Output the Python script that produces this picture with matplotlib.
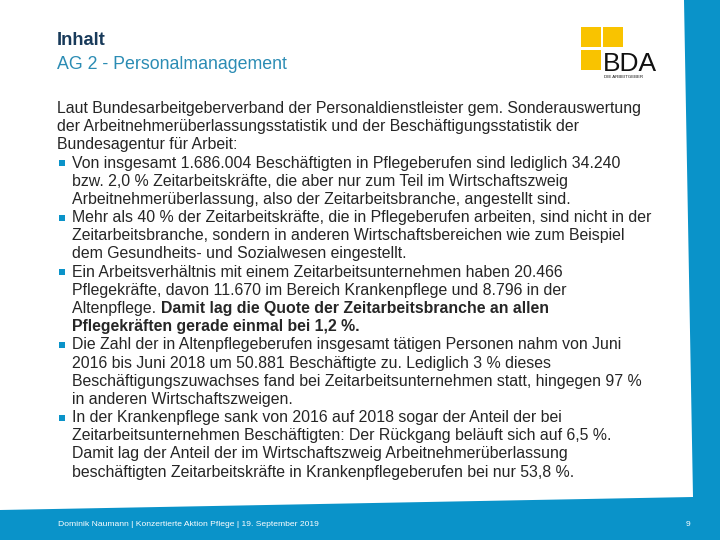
import matplotlib
matplotlib.use("Agg")
import matplotlib.pyplot as plt
from matplotlib.patches import Polygon, Rectangle

# ---- content ----
title = "Inhalt"
subtitle = "AG 2 - Personalmanagement"
footer = "Dominik Naumann | Konzertierte Aktion Pflege | 19. September 2019"
page_no = "9"
logo_text = "BDA"
logo_sub = "DIE ARBEITGEBER"

# each entry: (bullet?, normal text, bold text)
body_lines = [
    (False, "Laut Bundesarbeitgeberverband der Personaldienstleister gem. Sonderauswertung", ""),
    (False, "der Arbeitnehmerüberlassungsstatistik und der Beschäftigungsstatistik der", ""),
    (False, "Bundesagentur für Arbeit:", ""),
    (True, "Von insgesamt 1.686.004 Beschäftigten in Pflegeberufen sind lediglich 34.240", ""),
    (None, "bzw. 2,0 % Zeitarbeitskräfte, die aber nur zum Teil im Wirtschaftszweig", ""),
    (None, "Arbeitnehmerüberlassung, also der Zeitarbeitsbranche, angestellt sind.", ""),
    (True, "Mehr als 40 % der Zeitarbeitskräfte, die in Pflegeberufen arbeiten, sind nicht in der", ""),
    (None, "Zeitarbeitsbranche, sondern in anderen Wirtschaftsbereichen wie zum Beispiel", ""),
    (None, "dem Gesundheits- und Sozialwesen eingestellt.", ""),
    (True, "Ein Arbeitsverhältnis mit einem Zeitarbeitsunternehmen haben 20.466", ""),
    (None, "Pflegekräfte, davon 11.670 im Bereich Krankenpflege und 8.796 in der", ""),
    (None, "Altenpflege. ", "Damit lag die Quote der Zeitarbeitsbranche an allen"),
    (None, "", "Pflegekräften gerade einmal bei 1,2 %."),
    (True, "Die Zahl der in Altenpflegeberufen insgesamt tätigen Personen nahm von Juni", ""),
    (None, "2016 bis Juni 2018 um 50.881 Beschäftigte zu. Lediglich 3 % dieses", ""),
    (None, "Beschäftigungszuwachses fand bei Zeitarbeitsunternehmen statt, hingegen 97 %", ""),
    (None, "in anderen Wirtschaftszweigen.", ""),
    (True, "In der Krankenpflege sank von 2016 auf 2018 sogar der Anteil der bei", ""),
    (None, "Zeitarbeitsunternehmen Beschäftigten: Der Rückgang beläuft sich auf 6,5 %.", ""),
    (None, "Damit lag der Anteil der im Wirtschaftszweig Arbeitnehmerüberlassung", ""),
    (None, "beschäftigten Zeitarbeitskräfte in Krankenpflegeberufen bei nur 53,8 %.", ""),
]

# ---- styles ----
BLUE = "#0a93c9"
NAVY = "#183a5a"
TEAL = "#2b8cb4"
YELLOW = "#f9c300"
TEXT = "#262626"
FONT = "Liberation Sans"

fig = plt.figure(figsize=(7.2, 5.4), dpi=100)
ax = fig.add_axes([0, 0, 1, 1])
ax.set_xlim(0, 720)
ax.set_ylim(540, 0)
ax.axis("off")
renderer = fig.canvas.get_renderer()

# blue frame (right strip + bottom band)
ax.add_patch(Polygon([(684, 0), (720, 0), (720, 540), (0, 540), (0, 510),
                      (693, 497)], closed=True, facecolor=BLUE, edgecolor="none"))

# logo
for (x0, y0) in [(581, 27), (603, 27), (581, 50)]:
    ax.add_patch(Rectangle((x0, y0), 20, 20, facecolor=YELLOW, edgecolor="none"))
ax.text(603, 71, logo_text, fontsize=19, family=FONT, color="#111111",
        va="baseline", ha="left")
ax.text(604, 77.5, logo_sub, fontsize=3.2, family=FONT, color="#111111",
        va="baseline", ha="left")

# titles
ax.text(57, 45, title, fontsize=13.2, family=FONT, weight="bold", color=NAVY, va="baseline")
ax.text(57, 69.3, subtitle, fontsize=12.8, family=FONT, color=TEAL, va="baseline")

# fit body font size so the first line spans ~586 px
probe = ax.text(0, 0, body_lines[0][1], fontsize=10, family=FONT)
w = probe.get_window_extent(renderer).width
probe.remove()
fs = 10 * 586 / w

y0 = 113.0
dy = 18.18
for i, (bul, normal, bold) in enumerate(body_lines):
    y = y0 + i * dy
    x = 57 if bul is False else 72.5
    if bul:
        ax.add_patch(Rectangle((59, y - 7.5), 6, 6, facecolor=BLUE, edgecolor="none"))
    xe = x
    if normal:
        t = ax.text(x, y, normal, fontsize=fs, family=FONT, color=TEXT, va="baseline")
        bb = t.get_window_extent(renderer)
        xe = x + bb.width
    if bold:
        ax.text(xe, y, bold, fontsize=fs, family=FONT, weight="bold",
                color=TEXT, va="baseline")

# footer
ax.text(57.5, 526, footer, fontsize=6.1, family=FONT, color="white", va="baseline")
ax.text(686, 526, page_no, fontsize=6.1, family=FONT, color="white", va="baseline")

fig.savefig("out.png", dpi=100)
